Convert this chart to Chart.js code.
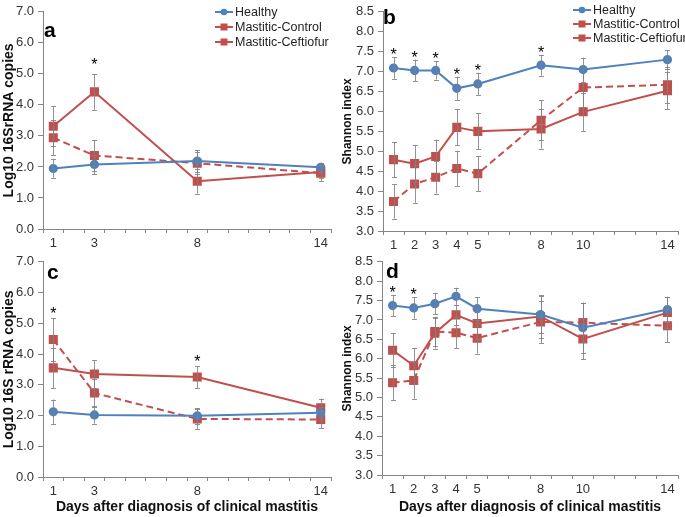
<!DOCTYPE html>
<html>
<head>
<meta charset="utf-8">
<script src="https://cdn.jsdelivr.net/npm/chart.js@4.4.0/dist/chart.umd.min.js"></script>
<style>
  body { margin: 0; background: #fff; }
  #wrap { position: relative; width: 685px; height: 517px; }
  canvas { position: absolute; }
</style>
</head>
<body>
<div id="wrap">
  <canvas id="chartA" width="342" height="250" style="left:0;top:0"></canvas>
  <canvas id="chartB" width="343" height="250" style="left:342px;top:0"></canvas>
  <canvas id="chartC" width="342" height="267" style="left:0;top:250px"></canvas>
  <canvas id="chartD" width="343" height="267" style="left:342px;top:250px"></canvas>
</div>
<script>
// x axis slots (days 1..14), only some get a label
const allDays = ['1', '2', '3', '4', '5', '6', '7', '8', '9', '10', '11', '12', '13', '14'];
const daysQpcr = [1, 3, 8, 14];
const daysShannon = [1, 2, 3, 4, 5, 8, 10, 14];

const seriesNames = ['Healthy', 'Mastitic-Control', 'Mastitic-Ceftiofur'];

// panel a - Log10 16SrRNA copies
const aHealthy = [1.95, 2.08, 2.19, 1.99];
const aHealthyErr = [0.3, 0.32, 0.35, 0.15];
const aControl = [3.31, 4.42, 1.54, 1.84];
const aControlErr = [0.65, 0.58, 0.4, 0.2];
const aCeft = [2.94, 2.37, 2.12, 1.80];
const aCeftErr = [0.57, 0.5, 0.35, 0.25];
const aStars = [3];

// panel b - Shannon index
const bHealthy = [7.09, 7.03, 7.03, 6.58, 6.69, 7.16, 7.05, 7.30];
const bHealthyErr = [0.27, 0.27, 0.23, 0.29, 0.28, 0.26, 0.3, 0.24];
const bControl = [4.79, 4.69, 4.87, 5.60, 5.50, 5.56, 5.99, 6.52];
const bControlErr = [0.44, 0.46, 0.42, 0.45, 0.45, 0.49, 0.48, 0.47];
const bCeft = [3.74, 4.18, 4.35, 4.57, 4.44, 5.78, 6.60, 6.67];
const bCeftErr = [0.43, 0.47, 0.41, 0.44, 0.44, 0.5, 0.5, 0.45];
const bStars = [1, 2, 3, 4, 5, 8];

// panel c - Log10 16S rRNA copies
const cHealthy = [2.12, 2.02, 1.99, 2.09];
const cHealthyErr = [0.4, 0.28, 0.25, 0.2];
const cControl = [3.55, 3.35, 3.25, 2.25];
const cControlErr = [0.65, 0.45, 0.35, 0.3];
const cCeft = [4.47, 2.73, 1.89, 1.87];
const cCeftErr = [0.7, 0.45, 0.33, 0.28];
const cStars = [1, 8];

// panel d - Shannon index
const dHealthy = [7.37, 7.31, 7.42, 7.61, 7.29, 7.14, 6.80, 7.27];
const dHealthyErr = [0.27, 0.28, 0.27, 0.22, 0.3, 0.47, 0.65, 0.33];
const dControl = [6.22, 5.82, 6.66, 7.13, 6.91, 7.09, 6.51, 7.19];
const dControlErr = [0.44, 0.46, 0.4, 0.25, 0.4, 0.55, 0.53, 0.4];
const dCeft = [5.38, 5.44, 6.70, 6.67, 6.53, 6.95, 6.93, 6.85];
const dCeftErr = [0.45, 0.47, 0.38, 0.4, 0.4, 0.55, 0.5, 0.43];
const dStars = [1, 2];

const FONT = '"Liberation Sans", Arial, sans-serif';
const BLUE = '#4F81BD';
const RED = '#C0504D';

function toPoints(days, values) {
  return days.map((d, i) => ({ x: String(d), y: values[i] }));
}

function makeSet(idx, days, values, errs) {
  const color = idx === 0 ? BLUE : RED;
  return {
    label: seriesNames[idx],
    data: toPoints(days, values),
    errors: errs,
    borderColor: color,
    backgroundColor: color,
    borderWidth: 2,
    borderDash: idx === 2 ? [7, 4] : [],
    pointStyle: idx === 0 ? 'circle' : 'rect',
    pointRadius: idx === 0 ? 3.6 : 5,
    tension: 0,
  };
}

// error bars + significance stars + panel letter + legend
const extrasPlugin = {
  id: 'extras',
  afterDatasetsDraw(chart) {
    const ctx = chart.ctx;
    const yScale = chart.scales.y;
    const ex = chart.options.plugins.extras;
    const tops = {};
    ctx.save();
    ctx.strokeStyle = 'rgba(128,128,128,0.85)';
    ctx.lineWidth = 1;
    chart.data.datasets.forEach((ds, di) => {
      const meta = chart.getDatasetMeta(di);
      meta.data.forEach((pt, i) => {
        const v = ds.data[i].y;
        const e = ds.errors[i];
        const yTop = yScale.getPixelForValue(v + e);
        const yBot = yScale.getPixelForValue(v - e);
        const x = Math.round(pt.x) + 0.5;
        ctx.beginPath();
        ctx.moveTo(x, yTop);
        ctx.lineTo(x, yBot);
        ctx.moveTo(x - 2.5, Math.round(yTop) + 0.5);
        ctx.lineTo(x + 2.5, Math.round(yTop) + 0.5);
        ctx.moveTo(x - 2.5, Math.round(yBot) + 0.5);
        ctx.lineTo(x + 2.5, Math.round(yBot) + 0.5);
        ctx.stroke();
        const key = ds.data[i].x;
        if (tops[key] === undefined || yTop < tops[key].y) {
          tops[key] = { x: pt.x, y: yTop };
        }
      });
    });

    ctx.fillStyle = '#000';
    ctx.font = '16px ' + FONT;
    ctx.textAlign = 'center';
    ctx.textBaseline = 'alphabetic';
    ex.stars.forEach((d) => {
      const t = tops[String(d)];
      if (t) ctx.fillText('*', t.x, t.y + 4 - ex.starGap);
    });

    ctx.font = 'bold 21px ' + FONT;
    ctx.textAlign = 'left';
    ctx.textBaseline = 'middle';
    ctx.fillText(ex.letter, ex.letterX, ex.letterY);

    if (ex.legend) {
      const lg = ex.legend;
      ctx.font = '12.5px ' + FONT;
      chart.data.datasets.forEach((ds, di) => {
        const y = lg.y + di * lg.gap;
        ctx.strokeStyle = ds.borderColor;
        ctx.lineWidth = 2;
        ctx.setLineDash(ds.borderDash);
        ctx.beginPath();
        ctx.moveTo(lg.x, y);
        ctx.lineTo(lg.x + 18, y);
        ctx.stroke();
        ctx.setLineDash([]);
        ctx.fillStyle = ds.backgroundColor;
        if (ds.pointStyle === 'circle') {
          ctx.beginPath();
          ctx.arc(lg.x + 9, y, 3.3, 0, Math.PI * 2);
          ctx.fill();
        } else {
          ctx.fillRect(lg.x + 5.5, y - 3.5, 7, 7);
        }
        ctx.fillStyle = '#222';
        ctx.fillText(ds.label, lg.x + 20, y + 0.5);
      });
    }
    ctx.restore();
  },
};

function makeChart(id, p) {
  new Chart(document.getElementById(id), {
    type: 'line',
    data: {
      labels: allDays,
      datasets: [
        makeSet(0, p.days, p.healthy, p.healthyErr),
        makeSet(1, p.days, p.control, p.controlErr),
        makeSet(2, p.days, p.ceft, p.ceftErr),
      ],
    },
    options: {
      responsive: false,
      animation: false,
      layout: { padding: { left: 0, top: p.padTop, right: p.padRight, bottom: 0 } },
      scales: {
        x: {
          type: 'category',
          offset: true,
          grid: { offset: true, drawOnChartArea: false, tickLength: 4, color: '#868686' },
          border: { display: true, color: '#868686', width: 1 },
          ticks: {
            autoSkip: false,
            maxRotation: 0,
            padding: 3,
            color: '#333',
            font: { family: FONT, size: 13 },
            callback: function (val) {
              const lab = this.getLabelForValue(val);
              return p.days.includes(Number(lab)) ? lab : '';
            },
          },
          title: {
            display: !!p.xTitle,
            text: p.xTitle || '',
            color: '#111',
            font: { family: FONT, size: 14, weight: 'bold' },
            padding: { top: 0, bottom: 1 },
          },
          afterFit: (s) => { s.height = p.xHeight; },
        },
        y: {
          min: p.yMin,
          max: p.yMax,
          grid: { drawOnChartArea: false, tickLength: 5, color: '#868686' },
          border: { display: true, color: '#868686', width: 1 },
          ticks: {
            stepSize: p.yStep,
            padding: 4,
            color: '#333',
            font: { family: FONT, size: 13 },
            callback: (v) => Number(v).toFixed(1),
          },
          title: {
            display: true,
            text: p.yTitle,
            color: '#111',
            font: { family: FONT, size: p.yTitleSize, weight: 'bold', lineHeight: 1 },
            padding: { top: p.yTitlePad, bottom: 0 },
          },
          afterFit: (s) => { s.width = p.yWidth; },
        },
      },
      plugins: {
        legend: { display: false },
        tooltip: { enabled: false },
        extras: {
          stars: p.stars,
          starGap: p.starGap,
          letter: p.letter,
          letterX: p.letterX,
          letterY: p.letterY,
          legend: p.legend,
        },
      },
    },
    plugins: [extrasPlugin],
  });
}

makeChart('chartA', {
  days: daysQpcr, healthy: aHealthy, healthyErr: aHealthyErr,
  control: aControl, controlErr: aControlErr, ceft: aCeft, ceftErr: aCeftErr,
  stars: aStars, starGap: 7.5, letter: 'a', letterX: 44, letterY: 31,
  yMin: 0, yMax: 7, yStep: 1, yTitle: 'Log10 16SrRNA copies', yTitleSize: 14, yTitlePad: 2,
  yWidth: 43, xHeight: 21, padTop: 11, padRight: 11, xTitle: null,
  legend: { x: 215, y: 12, gap: 15 },
});

makeChart('chartB', {
  days: daysShannon, healthy: bHealthy, healthyErr: bHealthyErr,
  control: bControl, controlErr: bControlErr, ceft: bCeft, ceftErr: bCeftErr,
  stars: bStars, starGap: 1, letter: 'b', letterX: 41, letterY: 18,
  yMin: 3, yMax: 8.5, yStep: 0.5, yTitle: 'Shannon index', yTitleSize: 12, yTitlePad: 0,
  yWidth: 41, xHeight: 19, padTop: 7, padRight: 5, xTitle: null,
  legend: { x: 231, y: 10, gap: 14 },
});

makeChart('chartC', {
  days: daysQpcr, healthy: cHealthy, healthyErr: cHealthyErr,
  control: cControl, controlErr: cControlErr, ceft: cCeft, ceftErr: cCeftErr,
  stars: cStars, starGap: 3.5, letter: 'c', letterX: 47, letterY: 23,
  yMin: 0, yMax: 7, yStep: 1, yTitle: 'Log10 16S rRNA copies', yTitleSize: 14, yTitlePad: 2,
  yWidth: 43, xHeight: 40, padTop: 7, padRight: 11,
  xTitle: 'Days after diagnosis of clinical mastitis', legend: null,
});

makeChart('chartD', {
  days: daysShannon, healthy: dHealthy, healthyErr: dHealthyErr,
  control: dControl, controlErr: dControlErr, ceft: dCeft, ceftErr: dCeftErr,
  stars: dStars, starGap: 1.5, letter: 'd', letterX: 44, letterY: 22,
  yMin: 3, yMax: 8.5, yStep: 0.5, yTitle: 'Shannon index', yTitleSize: 12, yTitlePad: 0,
  yWidth: 40, xHeight: 42, padTop: 7, padRight: 5,
  xTitle: 'Days after diagnosis of clinical mastitis', legend: null,
});
</script>
</body>
</html>
